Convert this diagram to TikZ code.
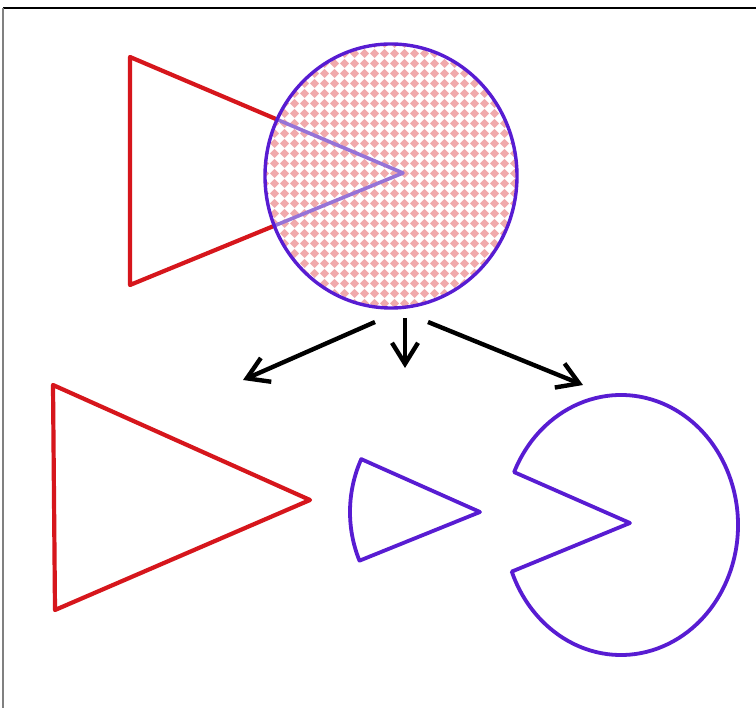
\documentclass[tikz,border=0pt]{standalone}
\usepackage{xcolor}
\usepackage{tikz}
\usetikzlibrary{arrows.meta,patterns}

\definecolor{paintred}{RGB}{214,22,28}
\definecolor{paintblue}{RGB}{88,28,210}
\definecolor{paintlilac}{RGB}{150,115,215}
\definecolor{paintpink}{RGB}{240,170,172}

\pgfdeclarepatternformonly{checkdiamond}{\pgfpointorigin}{\pgfpoint{10pt}{10pt}}{\pgfpoint{10pt}{10pt}}{
  \pgfpathmoveto{\pgfpoint{5pt}{0pt}}
  \pgfpathlineto{\pgfpoint{10pt}{5pt}}
  \pgfpathlineto{\pgfpoint{5pt}{10pt}}
  \pgfpathlineto{\pgfpoint{0pt}{5pt}}
  \pgfpathclose
  \pgfusepath{fill}
}

\begin{document}
\begin{tikzpicture}[x=1pt, y=-1pt, line join=round,
  redline/.style={draw=paintred, line width=4.2pt},
  blueline/.style={draw=paintblue, line width=3.8pt},
  splitarrow/.style={draw=black, line width=4.4pt, -{Straight Barb[length=21pt,width=26pt,line width=4.4pt]}}]
\useasboundingbox (0,0) rectangle (756,708);
\fill[white] (0,0) rectangle (756,708);
\draw[black, line width=2pt] (3,8) -- (756,8);
\draw[gray, line width=1.5pt] (3,8) -- (3,708);

% overlapping pair
\draw[redline] (130,57) -- (130,285) -- (403,173) -- cycle;
\fill[white] (391,176) ellipse[x radius=126, y radius=132];
\fill[pattern=checkdiamond, pattern color=paintpink] (391,176) ellipse[x radius=126, y radius=132];
\begin{scope}
  \clip (391,176) ellipse[x radius=126, y radius=132];
  \draw[draw=paintlilac, line width=3.6pt] (130,57) -- (130,285) -- (403,173) -- cycle;
\end{scope}
\draw[blueline, line width=3.4pt] (391,176) ellipse[x radius=126, y radius=132];

% arrows
\coordinate (src l) at (375,322);
\coordinate (src m) at (405,318);
\coordinate (src r) at (428,322);
\coordinate (dst l) at (243,380);
\coordinate (dst m) at (405,368);
\coordinate (dst r) at (583,385);
\draw[splitarrow] (src l) -- (dst l);
\draw[splitarrow] (src m) -- (dst m);
\draw[splitarrow] (src r) -- (dst r);

% pieces
\draw[redline] (53,385) -- (55,610) -- (310,500) -- cycle;
\draw[blueline] (480,512) -- ([shift={(480,512)}]204:130) arc[start angle=204, end angle=158, radius=130] -- cycle;
\draw[blueline] (630,523) -- ([shift={(621,525)}]204:117 and 130) arc[start angle=204, end angle=519, x radius=117, y radius=130] -- cycle;
\end{tikzpicture}
\end{document}
